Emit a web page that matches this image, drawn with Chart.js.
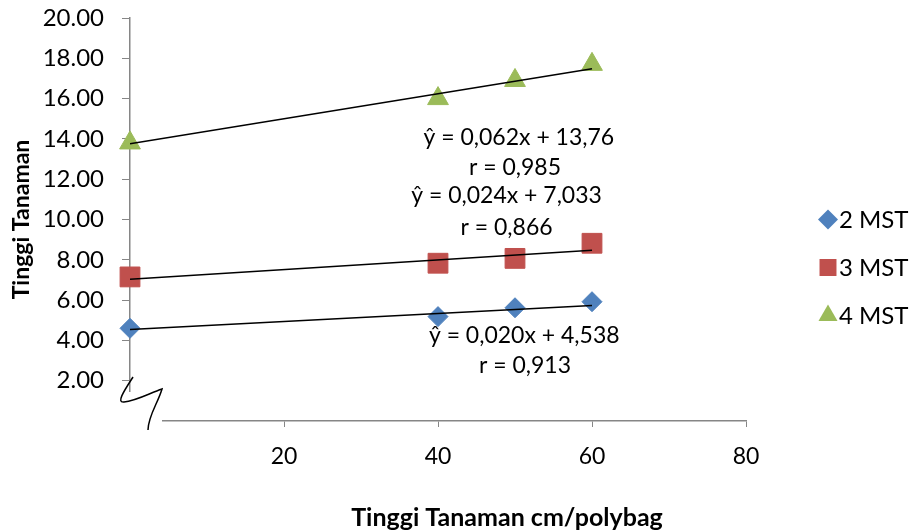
<!DOCTYPE html>
<html>
<head>
<meta charset="utf-8">
<script src="https://cdn.jsdelivr.net/npm/chart.js@4.4.1/dist/chart.umd.min.js"></script>
<style>
  html, body { margin: 0; padding: 0; background: #fff; }
  #wrap { width: 911px; height: 531px; }
</style>
</head>
<body>
<div id="wrap"><canvas id="chart" width="911" height="531"></canvas></div>
<script>
// data
var xValues = [0, 40, 50, 60];
var mst2 = [4.60, 5.18, 5.62, 5.92];
var mst3 = [7.15, 7.83, 8.07, 8.82];
var mst4 = [13.80, 16.00, 16.90, 17.70];
var seriesNames = ["2 MST", "3 MST", "4 MST"];
var seriesColors = ["#4F81BD", "#C0504D", "#9BBB59"];
var seriesShapes = ["rectRot", "rect", "triangle"];

// trend lines (ends at x = 0 and x = 60)
var trendX = [0, 60];
var trend2 = [4.538, 5.738];
var trend3 = [7.033, 8.473];
var trend4 = [13.76, 17.48];

var yTicks = [0, 2, 4, 6, 8, 10, 12, 14, 16, 18, 20];
var xTicks = [0, 20, 40, 60, 80];

var eqTexts = [
    "ŷ = 0,062x + 13,76", "r = 0,985",
    "ŷ = 0,024x + 7,033", "r = 0,866",
    "ŷ = 0,020x + 4,538", "r = 0,913"
];
// where each text sits, in chart values
var eqPos = [[50.5, 14.05], [50, 12.6], [48.9, 11.2], [48.9, 9.6], [51.2, 4.22], [51.3, 2.73]];

var xTitle = "Tinggi Tanaman cm/polybag";
var yTitle = "Tinggi Tanaman";

function pts(xs, ys) {
    return xs.map(function(x, i) { return { x: x, y: ys[i] }; });
}

var FONT = "Lato, 'Open Sans', sans-serif";
var AXIS = "#868686";

// labels, legend, x title and axis break
var extras = {
    id: 'extras',
    afterDraw: function(chart) {
        var ctx = chart.ctx;
        var xs = chart.scales.x, ys = chart.scales.y;
        var area = chart.chartArea;
        var x0 = xs.getPixelForValue(0), y0 = ys.getPixelForValue(0);

        // equation texts
        ctx.save();
        ctx.fillStyle = "#000";
        ctx.font = "23px " + FONT;
        ctx.textAlign = "center";
        ctx.textBaseline = "middle";
        eqTexts.forEach(function(t, i) {
            ctx.fillText(t, xs.getPixelForValue(eqPos[i][0]), ys.getPixelForValue(eqPos[i][1]));
        });

        // x axis title (sits right of the plot centre, as in the original)
        ctx.font = "bold 25px " + FONT;
        ctx.fillText(xTitle, (area.left + area.right) / 2 + 69, chart.height - 13);
        ctx.restore();

        // legend
        ctx.save();
        ctx.font = "24px " + FONT;
        ctx.textAlign = "left";
        ctx.textBaseline = "middle";
        var lx = area.right + 82;
        var ly = (area.top + area.bottom) / 2;
        var radii = [10, 12, 11];
        seriesNames.forEach(function(name, i) {
            var y = ly + i * 48;
            ctx.fillStyle = seriesColors[i];
            ctx.strokeStyle = seriesColors[i];
            Chart.helpers.drawPoint(ctx, { pointStyle: seriesShapes[i], radius: radii[i], borderWidth: 0 }, lx, y);
            ctx.fillStyle = "#000";
            ctx.fillText(name, lx + 11, y + 1);
        });
        ctx.restore();

        // axis break: blank out the corner, then the squiggle
        ctx.save();
        ctx.fillStyle = "#fff";
        ctx.fillRect(x0 - 10, y0 - 29, 42, 38);
        ctx.strokeStyle = "#000";
        ctx.lineWidth = 1.5;
        ctx.beginPath();
        ctx.moveTo(x0 + 3, y0 - 44);
        ctx.bezierCurveTo(x0 - 6, y0 - 30, x0 - 14, y0 - 18, x0 - 6, y0 - 19);
        ctx.bezierCurveTo(x0 + 6, y0 - 20, x0 + 20, y0 - 28, x0 + 32, y0 - 32);
        ctx.bezierCurveTo(x0 + 28, y0 - 18, x0 + 18, y0 - 5, x0 + 18, y0 + 9);
        ctx.stroke();
        ctx.restore();
    }
};

var ctx = document.getElementById('chart').getContext('2d');
var chart = new Chart(ctx, {
    type: 'scatter',
    data: {
        datasets: [
            { label: seriesNames[0], data: pts(xValues, mst2), backgroundColor: seriesColors[0], borderColor: seriesColors[0],
              pointStyle: seriesShapes[0], pointRadius: 10, pointHoverRadius: 10, order: 2, clip: false },
            { label: seriesNames[1], data: pts(xValues, mst3), backgroundColor: seriesColors[1], borderColor: seriesColors[1],
              pointStyle: seriesShapes[1], pointRadius: 14, pointHoverRadius: 14, order: 2, clip: false },
            { label: seriesNames[2], data: pts(xValues, mst4), backgroundColor: seriesColors[2], borderColor: seriesColors[2],
              pointStyle: seriesShapes[2], pointRadius: 12, pointHoverRadius: 12, order: 2, clip: false },
            { label: "t2", data: pts(trendX, trend2), showLine: true, borderColor: "#000", borderWidth: 1.5, pointRadius: 0, order: 1 },
            { label: "t3", data: pts(trendX, trend3), showLine: true, borderColor: "#000", borderWidth: 1.5, pointRadius: 0, order: 1 },
            { label: "t4", data: pts(trendX, trend4), showLine: true, borderColor: "#000", borderWidth: 1.5, pointRadius: 0, order: 1 }
        ]
    },
    options: {
        responsive: false,
        animation: false,
        layout: { padding: { top: 0, right: 165, bottom: 0, left: 0 } },
        plugins: {
            tooltip: { enabled: false },
            legend: { display: false }
        },
        scales: {
            x: {
                type: 'linear',
                min: 0, max: 80,
                afterBuildTicks: function(s) { s.ticks = xTicks.map(function(v) { return { value: v }; }); },
                afterFit: function(s) { s.height = 110; },
                grid: { drawOnChartArea: false, drawTicks: true, tickLength: 6, color: AXIS },
                border: { color: AXIS, width: 1.5 },
                ticks: {
                    color: "#000", padding: 16,
                    font: { family: FONT, size: 23 },
                    callback: function(v) { return v === 0 ? '' : v; }
                }
            },
            y: {
                type: 'linear',
                min: 0, max: 20,
                afterBuildTicks: function(s) { s.ticks = yTicks.map(function(v) { return { value: v }; }); },
                afterFit: function(s) { s.width = 130; s.paddingTop = 18; },
                grid: { drawOnChartArea: false, drawTicks: true, tickLength: 8, color: AXIS },
                border: { color: AXIS, width: 1.5 },
                ticks: {
                    color: "#000", padding: 18,
                    font: { family: FONT, size: 24 },
                    callback: function(v) { return v === 0 ? '' : v.toFixed(2); }
                },
                title: {
                    display: true, text: yTitle, color: "#000",
                    font: { family: FONT, size: 23, weight: 'bold' }, padding: { top: 8, bottom: 0 }
                }
            }
        }
    },
    plugins: [extras]
});
</script>
</body>
</html>
